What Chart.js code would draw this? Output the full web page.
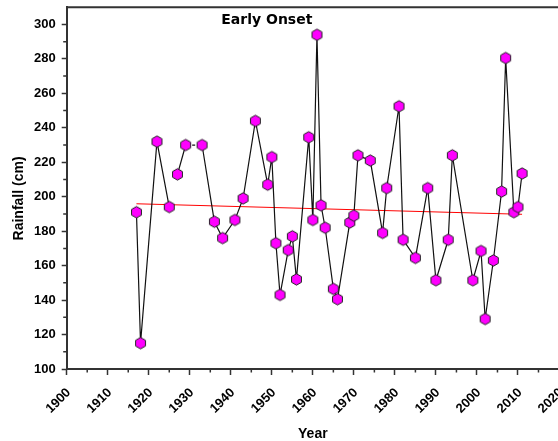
<!DOCTYPE html>
<html>
<head>
<meta charset="utf-8">
<script src="https://cdn.jsdelivr.net/npm/chart.js@4/dist/chart.umd.min.js"></script>
<style>
    html, body { margin: 0; padding: 0; background: #fff; overflow: hidden; }
    #wrap { width: 590px; height: 441px; }
</style>
</head>
<body>
<div id="wrap"><canvas id="rainChart" width="590" height="441"></canvas></div>
<script>
// Early onset years and rainfall (cm)
const years = [1917, 1918, 1922, 1925, 1927, 1929, 1933, 1936, 1938, 1941, 1943, 1946,
    1949, 1950, 1951, 1952, 1954, 1955, 1956, 1959, 1960, 1961, 1962, 1963,
    1965, 1966, 1969, 1970, 1971, 1974, 1977, 1978, 1981, 1982, 1985, 1988,
    1990, 1993, 1994, 1999, 2001, 2002, 2004, 2006, 2007, 2009, 2010, 2011];
const rainfall = [191, 115, 232, 194, 213, 230, 230, 185.5, 176, 186.5, 199, 244,
    207, 223, 173, 143, 169, 177, 152, 234.5, 186.5, 294, 195, 182,
    146.5, 140.5, 185, 189, 224, 221, 179, 205, 252.5, 175, 164.5, 205,
    151.5, 175, 224, 151.5, 168.5, 129, 163, 203, 280.5, 191, 194, 213.5];

// linear trend end points
const trendYears = [1917, 2011];
const trendValues = [195.9, 189.8];

const xTicks = [1900, 1910, 1920, 1930, 1940, 1950, 1960, 1970, 1980, 1990, 2000, 2010, 2020];
const yTicks = [100, 120, 140, 160, 180, 200, 220, 240, 260, 280, 300];

const AXIS = '#333';
const TICK_FONT = { family: 'Liberation Sans, Arial, sans-serif', size: 13, weight: 'bold' };

function makeHexagon(r) {
    const c = document.createElement('canvas');
    const s = Math.ceil(r * 2 + 3);
    c.width = s; c.height = s;
    const g = c.getContext('2d');
    g.beginPath();
    for (let i = 0; i < 6; i++) {
        const a = Math.PI / 2 + i * Math.PI / 3;
        const px = s / 2 + r * Math.cos(a), py = s / 2 + r * Math.sin(a);
        if (i === 0) g.moveTo(px, py); else g.lineTo(px, py);
    }
    g.closePath();
    g.fillStyle = '#ff00ff';
    g.fill();
    g.lineWidth = 1;
    g.strokeStyle = '#222';
    g.stroke();
    return c;
}

// minor ticks, top frame line, y title and the in-plot title
const extras = {
    id: 'extras',
    afterDraw(chart) {
        const { ctx, chartArea, scales: { x, y } } = chart;
        ctx.save();
        ctx.strokeStyle = AXIS;
        ctx.lineWidth = 1.5;
        ctx.beginPath();
        for (let v = 1905; v < 2020; v += 10) {
            const px = x.getPixelForValue(v);
            ctx.moveTo(px, chartArea.bottom);
            ctx.lineTo(px, chartArea.bottom + 3.5);
        }
        for (let v = 110; v < 310; v += 20) {
            const py = y.getPixelForValue(v);
            ctx.moveTo(chartArea.left, py);
            ctx.lineTo(chartArea.left - 3.5, py);
        }
        ctx.stroke();

        ctx.lineWidth = 2;
        ctx.beginPath();
        ctx.moveTo(chartArea.left, chartArea.top);
        ctx.lineTo(chartArea.right, chartArea.top);
        ctx.stroke();

        ctx.fillStyle = '#000';
        ctx.font = 'bold 14px "DejaVu Sans", Verdana, sans-serif';
        ctx.textAlign = 'center';
        ctx.textBaseline = 'alphabetic';
        ctx.fillText('Early Onset', chartArea.left + (chartArea.right - chartArea.left) * 0.4065, chartArea.top + 17);

        // y axis title sits a little below the middle of the axis
        ctx.font = 'bold 14px "Liberation Sans", Arial, sans-serif';
        ctx.textBaseline = 'middle';
        ctx.translate(19, y.getPixelForValue(199));
        ctx.rotate(-Math.PI / 2);
        ctx.fillText('Rainfall (cm)', 0, 0);
        ctx.restore();
    }
};

function drawChart() {
    const ctx = document.getElementById('rainChart').getContext('2d');
    const gapAt = years.indexOf(1925);
    const dashAt = years.indexOf(1929);

    new Chart(ctx, {
        type: 'scatter',
        data: {
            datasets: [{
                label: 'Rainfall',
                data: years.map((yr, i) => ({ x: yr, y: rainfall[i] })),
                showLine: true,
                borderColor: '#111',
                borderWidth: 1.2,
                pointStyle: makeHexagon(5.7),
                pointRadius: 6,
                segment: {
                    borderColor: c => c.p0DataIndex === gapAt ? 'rgba(0,0,0,0)' : undefined,
                    borderDash: c => c.p0DataIndex === dashAt ? [3, 40] : undefined,
                    borderDashOffset: c => c.p0DataIndex === dashAt ? -6.5 : undefined
                }
            }, {
                label: 'Trend',
                data: trendYears.map((yr, i) => ({ x: yr, y: trendValues[i] })),
                showLine: true,
                borderColor: '#ff0000',
                borderWidth: 1,
                pointRadius: 0
            }]
        },
        options: {
            responsive: false,
            animation: false,
            layout: { padding: { left: 0, top: 5, right: 31, bottom: 0 } },
            plugins: { legend: { display: false }, tooltip: { enabled: false } },
            scales: {
                x: {
                    type: 'linear',
                    min: 1900,
                    max: 2020,
                    afterBuildTicks: s => { s.ticks = xTicks.map(v => ({ value: v })); },
                    afterFit: s => { s.height = 72; },
                    border: { display: true, color: AXIS, width: 2 },
                    grid: { drawOnChartArea: false, drawTicks: true, tickLength: 6, tickWidth: 1.5, tickColor: AXIS },
                    ticks: {
                        font: TICK_FONT,
                        color: '#000',
                        minRotation: 45,
                        maxRotation: 45,
                        padding: 10,
                        labelOffset: 2,
                        callback: v => String(v)
                    },
                    title: {
                        display: true,
                        text: 'Year',
                        color: '#000',
                        font: { family: 'Liberation Sans, Arial, sans-serif', size: 14, weight: 'bold' },
                        padding: { top: 0, bottom: -2 }
                    }
                },
                y: {
                    min: 100,
                    max: 310,
                    afterBuildTicks: s => { s.ticks = yTicks.map(v => ({ value: v })); },
                    afterFit: s => { s.width = 66.7; s.paddingTop = 0; s.paddingBottom = 0; },
                    border: { display: true, color: AXIS, width: 2 },
                    grid: { drawOnChartArea: false, drawTicks: true, tickLength: 5, tickWidth: 1.5, tickColor: AXIS },
                    ticks: { font: TICK_FONT, color: '#000', padding: 6 },
                    title: { display: false }
                }
            }
        },
        plugins: [extras]
    });
}

document.addEventListener('DOMContentLoaded', drawChart);
</script>
</body>
</html>
